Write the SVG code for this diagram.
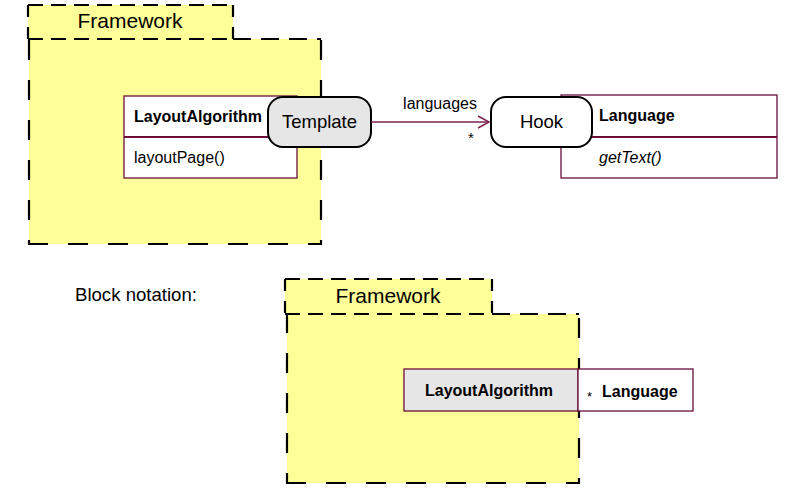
<svg xmlns="http://www.w3.org/2000/svg" width="791" height="491" viewBox="0 0 791 491">
<defs>
<style>
.fill{fill:#ffff99;stroke:none}
.e{fill:none;stroke:#000;stroke-width:2.2}
.h{stroke-dasharray:15 8}
.ht{stroke-dasharray:18 10}
.v{stroke-dasharray:20 20}
.tv{stroke-dasharray:12 10}
.cls{fill:#fff;stroke:#6b0f3a;stroke-width:1.3}
.div{stroke:#6b0f3a;stroke-width:2}
.role{fill:#e6e6e6;stroke:#000;stroke-width:2}
.hook{fill:#fff;stroke:#000;stroke-width:2}
.t{font-family:"Liberation Sans",Arial,sans-serif;fill:#000}
.b{font-weight:bold;font-size:16px}
.n{font-size:16px}
.big{font-size:21px}
.rl{font-size:18.5px}
.con{stroke:#7b2350;stroke-width:1.5;fill:none}
</style>
<marker id="open" markerWidth="14" markerHeight="14" refX="12" refY="7" orient="auto" markerUnits="userSpaceOnUse">
<path d="M1,1 L12,7 L1,13" fill="none" stroke="#7b2350" stroke-width="1.5"/>
</marker>
</defs>
<rect width="791" height="491" fill="#fff"/>

<g id="framework-top">
<rect class="fill" x="29" y="39" width="292" height="205"/>
<rect class="fill" x="28" y="5" width="205" height="34"/>
<path class="e h" d="M28,5 H233"/>
<path class="e tv" d="M28,5 V39"/>
<path class="e tv" d="M233,5 V39"/>
<path class="e h" d="M28,39 H233"/>
<path class="e ht" d="M233,39 H321"/>
<path class="e v" d="M29,40 V244"/>
<path class="e v" d="M321,40 V244"/>
<path class="e v" d="M28,244 H322"/>
<text class="t big" x="130" y="28" text-anchor="middle">Framework</text>
</g>

<g id="LayoutAlgorithm">
<rect class="cls" x="124" y="96" width="173" height="82"/>
<line class="div" x1="124" y1="137" x2="297" y2="137"/>
<text class="t b" x="134" y="122">LayoutAlgorithm</text>
<text class="t n" x="134" y="163">layoutPage()</text>
</g>

<g id="Template">
<rect class="role" x="268" y="97" width="103" height="50" rx="15" ry="15"/>
<text class="t rl" x="319.5" y="128" text-anchor="middle">Template</text>
</g>

<g id="Language">
<rect class="cls" x="561" y="95" width="216" height="83"/>
<line class="div" x1="561" y1="137" x2="777" y2="137"/>
<text class="t b" x="599" y="121">Language</text>
<text class="t n" x="599" y="163" font-style="italic">getText()</text>
</g>

<g id="Hook">
<rect class="hook" x="491" y="97" width="101" height="50" rx="15" ry="15"/>
<text class="t rl" x="541.5" y="128" text-anchor="middle">Hook</text>
</g>

<g id="connectors">
<line class="con" x1="371" y1="122" x2="489" y2="122" marker-end="url(#open)"/>
<text class="t n" x="440" y="109" text-anchor="middle">languages</text>
<text class="t" x="468" y="143" font-size="15">*</text>
</g>

<g id="block-label">
<text class="t" x="75" y="301" font-size="18.6">Block notation:</text>
</g>

<g id="framework-bottom">
<rect class="fill" x="287" y="314" width="292" height="169"/>
<rect class="fill" x="285" y="279" width="207" height="35"/>
<path class="e h" d="M285,279 H492"/>
<path class="e tv" d="M285,279 V314"/>
<path class="e tv" d="M492,279 V314"/>
<path class="e h" d="M285,314 H492"/>
<path class="e ht" d="M492,314 H579"/>
<path class="e v" d="M287,313 V483"/>
<path class="e v" d="M579,318 V483"/>
<path class="e v" d="M286,483 H580"/>
<text class="t big" x="388" y="303" text-anchor="middle">Framework</text>
</g>

<g id="LayoutAlgorithm-block">
<rect class="cls" x="404" y="369" width="174" height="42" style="fill:#e6e6e6"/>
<text class="t b" x="489" y="396" text-anchor="middle">LayoutAlgorithm</text>
</g>

<g id="Language-block">
<rect class="cls" x="578" y="369" width="115" height="42"/>
<text class="t" x="587" y="401" font-size="13">*</text>
<text class="t b" x="602" y="397">Language</text>
</g>
</svg>
